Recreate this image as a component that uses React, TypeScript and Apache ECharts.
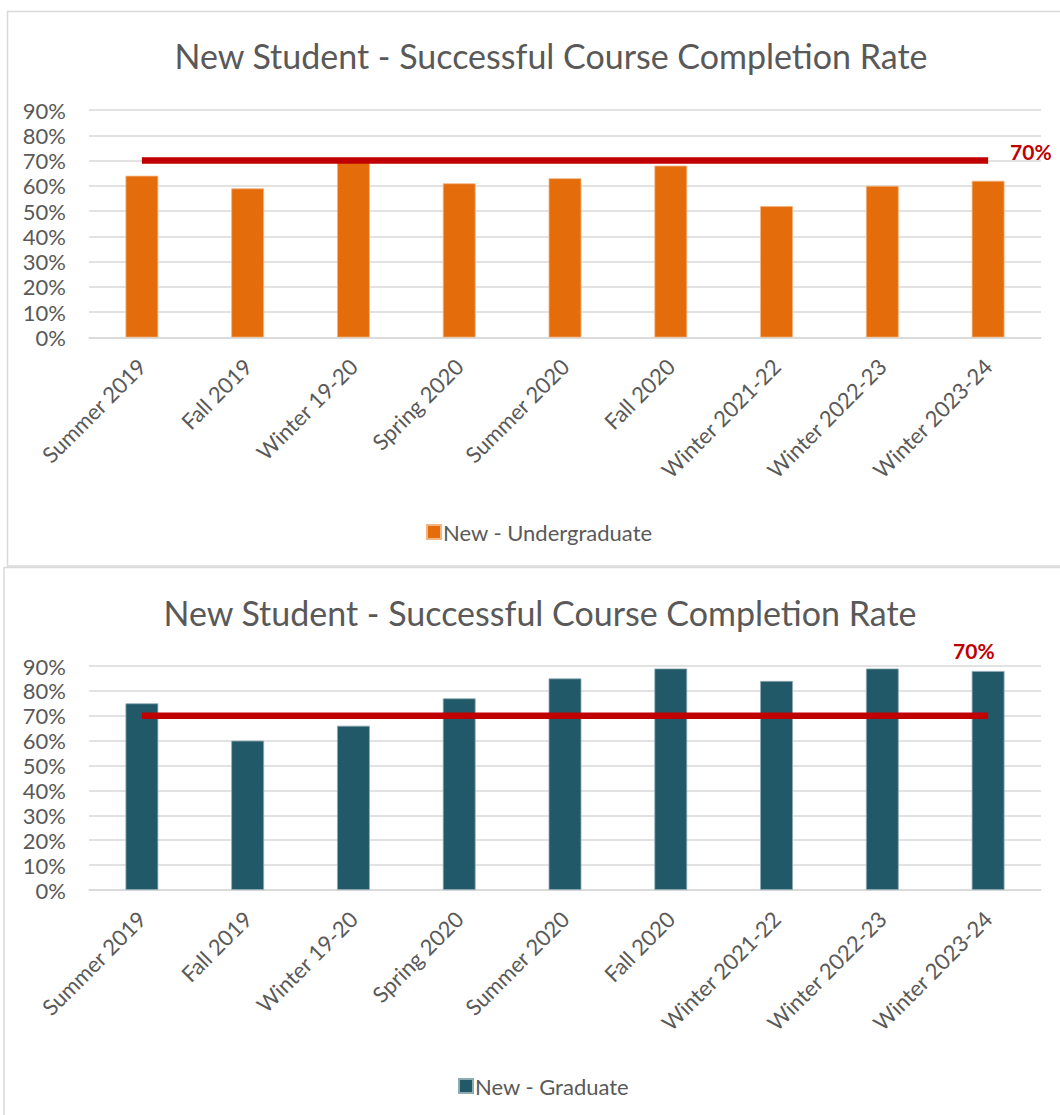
import React, { useEffect, useRef } from "react";
import * as echarts from "echarts";

const categories = [
  "Summer 2019",
  "Fall 2019",
  "Winter 19-20",
  "Spring 2020",
  "Summer 2020",
  "Fall 2020",
  "Winter 2021-22",
  "Winter 2022-23",
  "Winter 2023-24",
];
const undergradValues = [0.64, 0.59, 0.7, 0.61, 0.63, 0.68, 0.52, 0.6, 0.62];
const graduateValues = [0.75, 0.6, 0.66, 0.77, 0.85, 0.89, 0.84, 0.89, 0.88];
const targetValue = 0.7;
const targetSeries = categories.map(() => targetValue);
const yTicks = { min: 0, max: 0.9, interval: 0.1 };
const titleText = "New Student - Successful Course Completion Rate";
const undergradName = "New - Undergraduate";
const graduateName = "New - Graduate";

const FONT = "Lato";
const TXT = "#595959";
const GRID = "#D9D9D9";
const RED = "#C00000";
const ORANGE = "#E46C0A";
const TEAL = "#215968";

export default function App() {
  const ref = useRef<HTMLDivElement>(null);
  useEffect(() => {
    if (!ref.current) return;
    const chart = echarts.init(ref.current, undefined, { renderer: "svg" });
    const pct = (v: number) => `${Math.round(v * 100)}%`;
    const yAxisCommon = (gridIndex: number) => ({
      type: "value",
      gridIndex,
      min: yTicks.min,
      max: yTicks.max,
      interval: yTicks.interval,
      axisLabel: {
        formatter: pct,
        fontFamily: FONT,
        fontSize: 22,
        color: TXT,
        margin: 23,
      },
      axisLine: { show: false },
      axisTick: { show: false },
      splitLine: { lineStyle: { color: GRID, width: 1.5 } },
    });
    const xAxisCommon = (gridIndex: number) => ({
      type: "category",
      gridIndex,
      data: categories,
      axisLabel: {
        rotate: 45,
        interval: 0,
        fontFamily: FONT,
        fontSize: 22,
        color: TXT,
        margin: 25,
      },
      axisLine: { lineStyle: { color: GRID, width: 1.5 } },
      axisTick: { show: false },
    });
    const legendCommon = {
      padding: 0,
      itemWidth: 14,
      itemHeight: 14,
      itemGap: 10,
      icon: "rect",
      textStyle: { fontFamily: FONT, fontSize: 22, color: TXT, padding: [0, 0, 0, -3] },
    };
    const option: any = {
      animation: false,
      textStyle: { fontFamily: FONT },
      graphic: [
        {
          type: "rect",
          shape: { x: 7.5, y: 11.5, width: 1100, height: 554.5 },
          style: { fill: "none", stroke: GRID, lineWidth: 1.5 },
          silent: true,
          z: -10,
        },
        {
          type: "rect",
          shape: { x: 4, y: 567.5, width: 1100, height: 600 },
          style: { fill: "none", stroke: GRID, lineWidth: 1.5 },
          silent: true,
          z: -10,
        },
        {
          type: "text",
          x: 551,
          y: 55,
          style: {
            text: titleText,
            fontFamily: FONT,
            fontSize: 34,
            fill: TXT,
            textAlign: "center",
            textVerticalAlign: "middle",
          },
        },
        {
          type: "text",
          x: 540,
          y: 612,
          style: {
            text: titleText,
            fontFamily: FONT,
            fontSize: 34,
            fill: TXT,
            textAlign: "center",
            textVerticalAlign: "middle",
          },
        },
      ],
      legend: [
        { ...legendCommon, data: [undergradName], left: 426, top: 521 },
        { ...legendCommon, data: [graduateName], left: 458, top: 1075 },
      ],
      grid: [
        { left: 89, width: 952, top: 110, height: 227.5 },
        { left: 89, width: 952, top: 666, height: 224 },
      ],
      xAxis: [xAxisCommon(0), xAxisCommon(1)],
      yAxis: [yAxisCommon(0), yAxisCommon(1)],
      series: [
        {
          name: undergradName,
          type: "bar",
          xAxisIndex: 0,
          yAxisIndex: 0,
          data: undergradValues,
          barWidth: "31%",
          itemStyle: { color: ORANGE, borderColor: "#F3B584", borderWidth: 0.8 },
        },
        {
          name: "Target UG",
          type: "line",
          xAxisIndex: 0,
          yAxisIndex: 0,
          data: targetSeries,
          symbol: "none",
          lineStyle: { color: RED, width: 6.5 },
          itemStyle: { color: RED },
          endLabel: {
            show: true,
            formatter: () => pct(targetValue),
            color: RED,
            fontFamily: FONT,
            fontSize: 21,
            fontWeight: "bold",
            distance: 22,
            offset: [0, -9],
          },
          z: 5,
        },
        {
          name: graduateName,
          type: "bar",
          xAxisIndex: 1,
          yAxisIndex: 1,
          data: graduateValues,
          barWidth: "31%",
          itemStyle: { color: TEAL, borderColor: "#8FAAB3", borderWidth: 0.8 },
        },
        {
          name: "Target G",
          type: "line",
          xAxisIndex: 1,
          yAxisIndex: 1,
          data: targetSeries,
          symbol: "none",
          lineStyle: { color: RED, width: 6.5 },
          itemStyle: { color: RED },
          endLabel: {
            show: true,
            formatter: () => pct(targetValue),
            color: RED,
            fontFamily: FONT,
            fontSize: 21,
            fontWeight: "bold",
            distance: 8,
            offset: [-43, -65],
          },
          z: 5,
        },
      ],
    };
    chart.setOption(option);
    return () => chart.dispose();
  }, []);
  return (
    <div
      ref={ref}
      style={{ position: "absolute", left: 0, top: 0, width: 1060, height: 1115, background: "#fff" }}
    />
  );
}
